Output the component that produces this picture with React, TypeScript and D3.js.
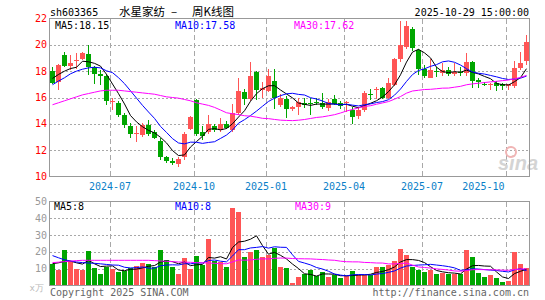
import React from "react";
import * as d3 from "d3";

// weekly candles, 2024-04-26 .. 2025-10-29
const opens = [
  18.03, 17.15, 19.25, 18.4, 18.75, 18.9, 19.3, 18.3, 17.75, 17.6,
  15.65, 15.6, 14.65, 13.85, 13.22, 13.15, 13.9, 13.4, 12.7, 11.5,
  11.15, 10.95, 11.5, 13.6, 15.8, 13.35, 13.35, 13.8, 13.5, 14.0,
  13.5, 14.85, 16.4, 15.85, 17.95, 16.55, 16.5, 17.25, 15.45, 15.9,
  15.1, 15.25, 15.55, 15.6, 15.65, 15.6, 15.2, 15.85, 15.6, 15.55,
  15.05, 14.6, 15.05, 16.3, 16.55, 16.7, 15.95, 16.95, 18.9, 19.85,
  21.2, 19.6, 18.2, 17.5, 18.0, 17.85, 18.1, 17.75, 17.95, 17.85,
  18.7, 17.35, 17.05, 16.95, 17.1, 17.0, 16.85, 16.85, 18.25, 18.75,
];
const highs = [
  18.35, 18.55, 19.45, 19.2, 19.35, 19.45, 20.0, 18.4, 18.1, 17.75,
  15.95, 15.75, 14.8, 14.1, 13.8, 14.1, 14.3, 13.55, 12.95, 11.55,
  11.4, 11.5, 13.4, 14.6, 15.9, 13.85, 14.7, 14.0, 14.45, 14.2,
  15.5, 17.5, 16.65, 18.7, 18.0, 17.15, 18.2, 18.2, 16.3, 16.15,
  15.35, 15.95, 15.95, 16.0, 16.0, 16.35, 15.9, 16.2, 15.75, 15.75,
  15.25, 15.25, 16.5, 16.65, 16.8, 16.8, 17.45, 19.0, 21.8, 21.8,
  21.35, 19.7, 18.5, 18.95, 18.3, 18.6, 18.35, 18.6, 18.3, 19.4,
  18.75, 17.45, 17.15, 17.1, 17.25, 17.1, 17.05, 18.75, 19.45, 20.75,
];
const lows = [
  17.0, 16.6, 18.35, 18.1, 18.2, 18.85, 17.7, 17.05, 16.95, 15.45,
  15.05, 14.55, 13.7, 12.95, 12.6, 12.98, 13.1, 12.85, 11.25, 11.0,
  10.9, 10.7, 11.25, 13.5, 13.05, 12.75, 13.2, 13.35, 13.35, 13.6,
  13.35, 14.65, 15.4, 15.7, 15.8, 16.0, 16.4, 15.1, 15.3, 14.45,
  15.0, 14.65, 15.2, 14.7, 15.4, 15.15, 14.95, 15.4, 15.1, 14.9,
  13.95, 14.35, 14.9, 15.8, 15.85, 15.85, 15.85, 16.9, 18.7, 19.7,
  19.5, 17.7, 17.5, 17.45, 17.55, 17.65, 17.6, 17.65, 17.6, 17.65,
  16.7, 16.75, 16.85, 16.6, 16.5, 16.6, 16.55, 16.7, 18.1, 18.45,
];
const closes = [
  17.1, 18.5, 18.4, 18.65, 18.82, 19.4, 18.3, 17.8, 17.6, 15.7,
  15.72, 14.65, 13.88, 13.2, 13.28, 13.9, 13.25, 12.95, 11.5, 11.15,
  11.0, 11.35, 13.2, 14.5, 13.2, 13.05, 13.95, 13.5, 14.0, 13.72,
  14.85, 16.5, 15.9, 17.6, 16.6, 16.75, 17.6, 15.95, 15.95, 15.1,
  15.25, 15.65, 15.45, 15.55, 15.6, 15.25, 15.65, 15.5, 15.35, 15.65,
  14.55, 15.05, 16.35, 16.2, 16.62, 15.95, 17.1, 18.95, 20.0, 21.45,
  19.75, 18.15, 17.6, 18.1, 17.9, 18.1, 17.75, 17.95, 17.9, 18.7,
  17.25, 17.15, 17.0, 17.05, 16.85, 16.85, 17.0, 18.25, 18.6, 20.25,
];
// volume, 万手
const volumes = [
  12.9, 9.1, 21, 14.8, 9.7, 9.1, 20.4, 10.6, 6.6, 11,
  9.7, 8, 8.8, 10.5, 11.8, 13.1, 13, 11, 20.9, 15,
  11.1, 6.8, 16.4, 9.7, 17.8, 12, 27.6, 14.4, 13.9, 11.1,
  46, 44, 16.8, 19.9, 21.2, 16.8, 18.4, 22.4, 11, 10.4,
  1.6, 5.1, 6.8, 9, 5.5, 8, 5, 6, 4.6, 5.5,
  8.4, 6.5, 6.5, 6.5, 11, 11.2, 12, 14.4, 21.5, 18,
  11.2, 9.5, 8, 9.2, 6.8, 7.2, 6.8, 6.8, 6.8, 21.4,
  17.2, 7.5, 5, 6.2, 4.5, 2.3, 2.8, 19.7, 13, 10.4,
];

// averages before a full window is available
const ma5Lead = [17.45, 17.75, 18.0, 18.2];
const ma10Lead = [16.97, 17.25, 17.5, 17.8, 18.0, 18.15, 18.25, 18.3, 18.25];
const ma30Lead = [
  15.45, 15.6, 15.75, 15.9, 16.05, 16.2, 16.3, 16.4, 16.5, 16.55,
  16.55, 16.55, 16.5, 16.45, 16.4, 16.35, 16.3, 16.25, 16.15, 16.05,
  16.0, 15.95, 15.85, 15.75, 15.6, 15.5, 15.4, 15.25, 15.05,
];
const vma5Lead = [13.0, 13.5, 14.3, 14.5];
const vma10Lead = [17.8, 16.5, 15.3, 14.6, 14.0, 13.6, 13.4, 13.2, 12.9];
const vma30Lead = [
  13.6, 13.9, 14.2, 14.5, 14.8, 15.0, 15.0, 15.0, 15.0, 15.0,
  15.0, 15.0, 15.0, 15.0, 15.0, 15.0, 15.0, 14.8, 14.6, 14.4,
  14.2, 14.0, 13.9, 13.8, 13.6, 13.5, 13.4, 13.2, 13.0,
];

const quarterTicks = ["2024-07", "2024-10", "2025-01", "2025-04", "2025-07", "2025-10"];
const priceTicks = [22, 20, 18, 16, 14, 12, 10];
const volumeTicks = [50, 40, 30, 20, 10];

// holiday weeks end before friday
const shortWeeks: Record<string, string> = {
  "2024-05-03": "2024-04-30",
  "2024-10-04": "2024-09-30",
  "2025-01-31": "2025-01-27",
  "2025-04-04": "2025-04-03",
  "2025-05-02": "2025-04-30",
  "2025-10-03": "2025-09-30",
  "2025-10-31": "2025-10-29",
};

const fmt = d3.timeFormat("%Y-%m-%d");
const weekDates = d3
  .timeFriday.range(new Date(2024, 3, 26), new Date(2025, 10, 1))
  .map((d) => shortWeeks[fmt(d)] ?? fmt(d));

const movingAvg = (vals: number[], n: number, lead: number[]) =>
  vals.map((_, i) => (i < n - 1 ? lead[i] : d3.mean(vals.slice(i - n + 1, i + 1)) as number));

const RED = "#ff5555";
const GREEN = "#00a600";
const GRID = "#a8a8a8";
const MONO = "DejaVu Sans Mono, monospace";

const App = () => {
  const n = closes.length;
  const x = d3.scaleLinear().domain([0, n]).range([50, 530]);
  const cx = (i: number) => x(i) + 2.5;
  const yP = d3.scaleLinear().domain([10, 22]).range([176.5, 18.5]);
  const yV = d3.scaleLinear().domain([0, 50]).range([285.5, 201.5]);

  const priceMa = [
    { vals: movingAvg(closes, 5, ma5Lead), color: "#000000" },
    { vals: movingAvg(closes, 10, ma10Lead), color: "#0000ff" },
    { vals: movingAvg(closes, 30, ma30Lead), color: "#ff00ff" },
  ];
  const volMa = [
    { vals: movingAvg(volumes, 5, vma5Lead), color: "#000000" },
    { vals: movingAvg(volumes, 10, vma10Lead), color: "#0000ff" },
    { vals: movingAvg(volumes, 30, vma30Lead), color: "#ff00ff" },
  ];
  const priceLine = d3.line<number>().x((_, i) => cx(i)).y((d) => yP(d));
  const volLine = d3.line<number>().x((_, i) => cx(i)).y((d) => yV(d));

  const tickIdx = quarterTicks.map((m) => weekDates.findIndex((d) => d.startsWith(m)));

  return (
    <svg
      width={545}
      height={300}
      style={{ position: "absolute", left: 0, top: 0, background: "#fff" }}
      fontFamily={MONO}
      fontSize={10}
    >
      {/* header */}
      <text x={50} y={16} fill="#000">sh603365</text>
      <text y={16} fill="#000" fontFamily="Noto Sans CJK SC" fontSize={11.5}>
        <tspan x={119}>水星家纺</tspan>
        <tspan x={171}>–</tspan>
        <tspan x={192}>周K线图</tspan>
      </text>
      <text x={529} y={16} textAnchor="end" fill="#000">2025-10-29 15:00:00</text>

      {/* price panel grid */}
      {priceTicks.slice(1, -1).map((v) => (
        <line key={v} x1={50} x2={529} y1={Math.round(yP(v)) + 0.5} y2={Math.round(yP(v)) + 0.5}
          stroke={GRID} strokeDasharray="2,2" />
      ))}
      {tickIdx.map((i) => (
        <line key={i} x1={x(i) + 0.5} x2={x(i) + 0.5} y1={19} y2={176} stroke={GRID} strokeDasharray="5,3" />
      ))}
      {priceTicks.map((v) => (
        <text key={v} x={47} y={yP(v) + 3.5} textAnchor="end" fill="#ff0000">{v}</text>
      ))}

      <text x={498} y={170} fill="#d4d4d4" fontFamily="Liberation Sans" fontStyle="italic" fontWeight="bold" fontSize={20}>
        sina
      </text>
      <circle cx={511} cy={152} r={5} fill="none" stroke="#f0b4b4" strokeWidth={2} />

      {/* candles */}
      <g shapeRendering="crispEdges">
        {closes.map((c, i) => {
          const o = opens[i];
          const col = c >= o ? RED : GREEN;
          const top = yP(Math.max(o, c));
          const h = Math.max(1, yP(Math.min(o, c)) - top);
          return (
            <g key={i}>
              <line x1={cx(i)} x2={cx(i)} y1={yP(highs[i])} y2={yP(lows[i])} stroke={col} />
              <rect x={x(i)} y={top} width={5} height={h} fill={col} />
            </g>
          );
        })}
      </g>
      {priceMa.map((m) => (
        <path key={m.color} d={priceLine(m.vals) as string} fill="none" stroke={m.color} strokeWidth={1} />
      ))}

      <rect x={49.5} y={18.5} width={480} height={158} fill="none" stroke="#999" />
      <text x={55} y={28.5} fill="#000">MA5:18.15</text>
      <text x={175} y={28.5} fill="#0000ff">MA10:17.58</text>
      <text x={294} y={28.5} fill="#ff00ff">MA30:17.62</text>

      {/* date labels */}
      {tickIdx.map((i, k) => (
        <text key={i} x={k === tickIdx.length - 1 ? x(i) - 1.5 : x(i)} y={190}
          textAnchor={k === tickIdx.length - 1 ? "end" : "middle"} fill="#0a7fc8">
          {quarterTicks[k]}
        </text>
      ))}

      {/* volume panel */}
      {volumeTicks.slice(1).map((v) => (
        <line key={v} x1={50} x2={529} y1={Math.round(yV(v)) + 0.5} y2={Math.round(yV(v)) + 0.5}
          stroke={GRID} strokeDasharray="2,2" />
      ))}
      {tickIdx.map((i) => (
        <line key={i} x1={x(i) + 0.5} x2={x(i) + 0.5} y1={202} y2={285} stroke={GRID} strokeDasharray="5,3" />
      ))}
      {volumeTicks.map((v) => (
        <text key={v} x={47} y={yV(v) + 3.5} textAnchor="end" fill="#999">{v}</text>
      ))}
      <text x={44} y={291} textAnchor="end" fill="#bbb" fontSize={9}>x万</text>

      <g shapeRendering="crispEdges">
        {volumes.map((v, i) => (
          <rect key={i} x={x(i)} y={yV(v)} width={5} height={yV(0) - yV(v)}
            fill={closes[i] >= opens[i] ? RED : GREEN} />
        ))}
      </g>
      {volMa.map((m) => (
        <path key={m.color} d={volLine(m.vals) as string} fill="none" stroke={m.color} strokeWidth={1} />
      ))}
      <rect x={49.5} y={201.5} width={480} height={84} fill="none" stroke="#999" />
      <text x={54} y={209.5} fill="#000">MA5:8</text>
      <text x={175} y={209.5} fill="#0000ff">MA10:8</text>
      <text x={295} y={209.5} fill="#ff00ff">MA30:9</text>

      <text x={50} y={296} fill="#666">Copyright 2025 SINA.COM</text>
      <text x={529} y={296} textAnchor="end" fill="#666">http://finance.sina.com.cn</text>
    </svg>
  );
};

export default App;
